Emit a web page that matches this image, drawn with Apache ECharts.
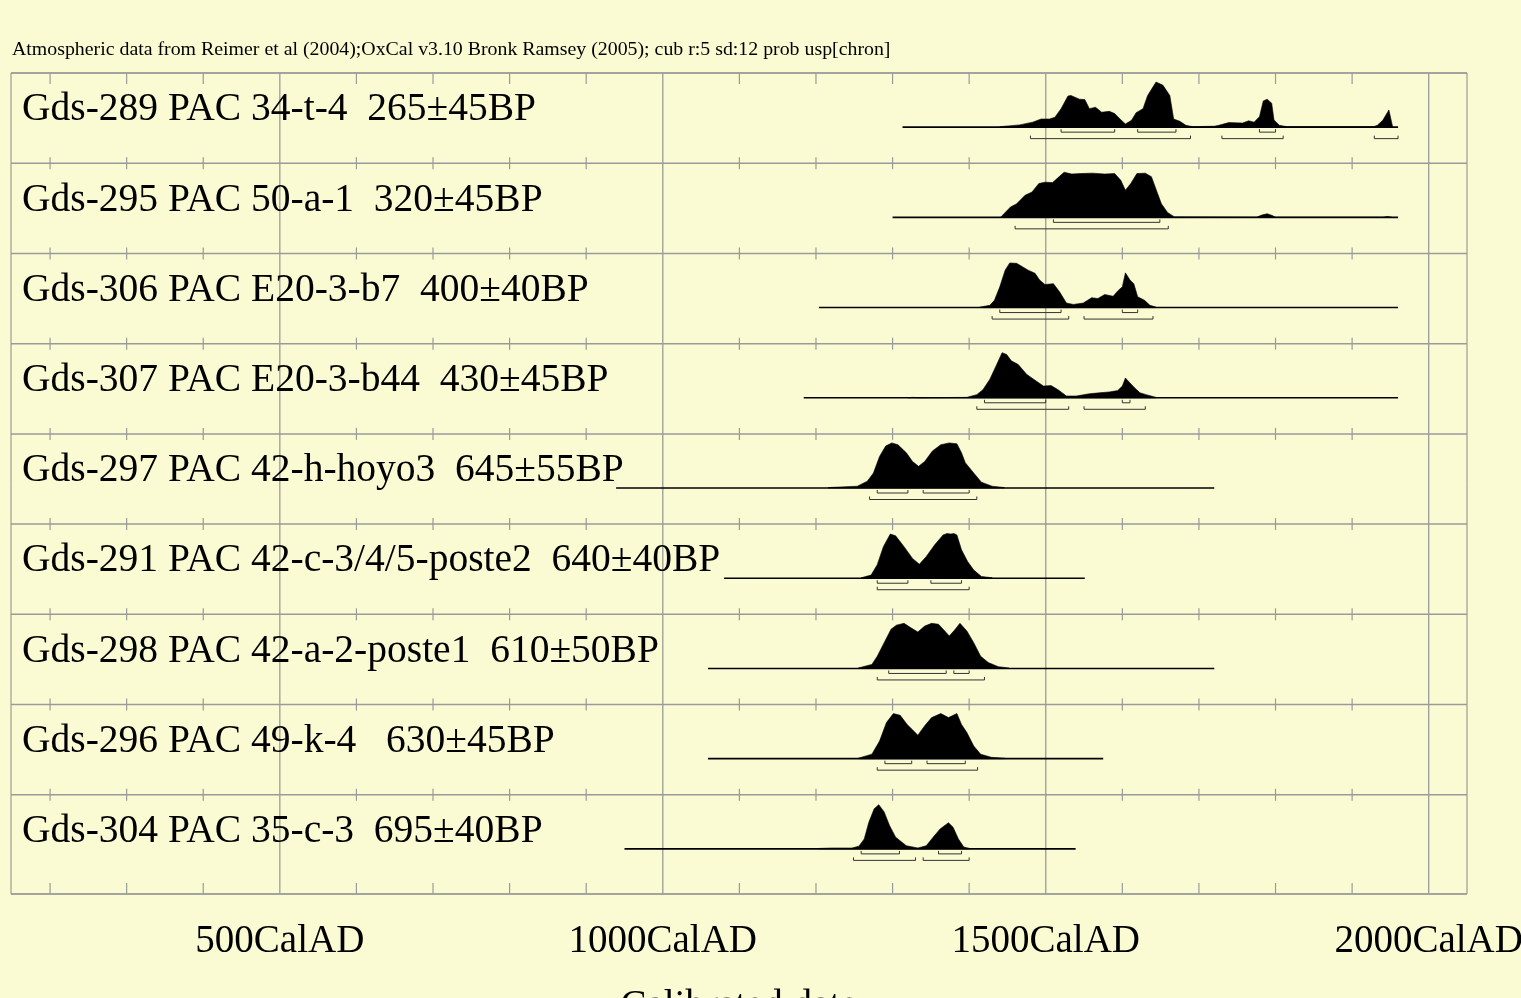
<!DOCTYPE html>
<html>
<head>
<meta charset="utf-8">
<script src="https://cdn.jsdelivr.net/npm/echarts@6/dist/echarts.min.js"></script>
<style>
html,body{margin:0;padding:0;background:#fbfbd3;}
#chart{width:1521px;height:998px;}
</style>
</head>
<body>
<div id="chart"></div>
<script>
// ---- data ----
const titleText = 'Atmospheric data from Reimer et al (2004);OxCal v3.10 Bronk Ramsey (2005); cub r:5 sd:12 prob usp[chron]';
const labels = [
  'Gds-289 PAC 34-t-4  265\u00b145BP',
  'Gds-295 PAC 50-a-1  320\u00b145BP',
  'Gds-306 PAC E20-3-b7  400\u00b140BP',
  'Gds-307 PAC E20-3-b44  430\u00b145BP',
  'Gds-297 PAC 42-h-hoyo3  645\u00b155BP',
  'Gds-291 PAC 42-c-3/4/5-poste2  640\u00b140BP',
  'Gds-298 PAC 42-a-2-poste1  610\u00b150BP',
  'Gds-296 PAC 49-k-4   630\u00b145BP',
  'Gds-304 PAC 35-c-3  695\u00b140BP'
];
const axisTickLabels = [500, 1000, 1500, 2000];
const minorTickYears = [200,300,400,600,700,800,900,1100,1200,1300,1400,1600,1700,1800,1900];
const ranges = [[1313,1960],[1300,1960],[1204,1960],[1184,1960],[939,1720],[1080,1551],[1059,1720],[1059,1575],[950,1539]];

const curve289 = [[1440,0.01],[1466,0.05],[1483,0.11],[1494,0.18],[1505,0.18],[1512,0.22],[1520,0.41],[1529,0.69],[1533,0.70],[1544,0.62],[1551,0.61],[1557,0.41],[1565,0.44],[1573,0.33],[1583,0.35],[1590,0.30],[1597,0.18],[1604,0.07],[1612,0.15],[1618,0.32],[1627,0.41],[1633,0.70],[1644,1.00],[1653,0.93],[1662,0.70],[1667,0.18],[1675,0.13],[1683,0.04],[1692,0.01],[1720,0.02],[1726,0.04],[1739,0.10],[1757,0.09],[1765,0.14],[1772,0.11],[1779,0.23],[1784,0.58],[1789,0.62],[1795,0.53],[1798,0.16],[1805,0.04],[1815,0.01],[1928,0.01],[1933,0.04],[1940,0.15],[1948,0.38],[1953,0.0]];
const curve295 = [[1441,0],[1454,0.23],[1462,0.30],[1473,0.49],[1482,0.56],[1491,0.75],[1499,0.78],[1509,0.77],[1518,0.91],[1524,1.0],[1534,0.96],[1545,0.97],[1561,0.98],[1577,0.96],[1590,0.97],[1598,0.82],[1604,0.60],[1611,0.75],[1619,0.97],[1630,0.98],[1638,0.90],[1646,0.53],[1651,0.30],[1659,0.11],[1668,0.01],[1775,0],[1782,0.05],[1789,0.08],[1796,0.04],[1800,0],[1940,0],[1946,0.02],[1952,0]];
const curve306 = [[1414,0.01],[1427,0.05],[1433,0.16],[1440,0.46],[1447,0.83],[1453,0.99],[1462,0.98],[1468,0.92],[1477,0.83],[1486,0.76],[1492,0.61],[1499,0.51],[1510,0.53],[1518,0.35],[1527,0.10],[1536,0.07],[1549,0.10],[1560,0.22],[1568,0.20],[1577,0.29],[1588,0.25],[1594,0.37],[1600,0.46],[1604,0.77],[1610,0.61],[1615,0.53],[1620,0.24],[1629,0.16],[1636,0.05],[1644,0.01]];
const curve307 = [[1320,0],[1327,0.01],[1335,0],[1397,0.01],[1410,0.07],[1418,0.18],[1427,0.41],[1436,0.74],[1443,1.0],[1449,0.96],[1455,0.82],[1464,0.74],[1475,0.52],[1486,0.39],[1497,0.26],[1507,0.27],[1516,0.18],[1527,0.04],[1540,0.04],[1557,0.09],[1570,0.11],[1583,0.13],[1594,0.16],[1600,0.26],[1604,0.44],[1610,0.33],[1616,0.22],[1623,0.11],[1631,0.07],[1644,0.01]];
const curve297 = [[1216,0.01],[1254,0.04],[1267,0.15],[1275,0.33],[1283,0.70],[1291,0.93],[1299,1.0],[1307,0.96],[1318,0.78],[1326,0.59],[1334,0.48],[1342,0.59],[1352,0.82],[1363,0.96],[1374,1.0],[1384,0.98],[1390,0.78],[1395,0.56],[1406,0.33],[1416,0.13],[1430,0.04],[1446,0.01]];
const curve291 = [[1259,0.01],[1272,0.07],[1280,0.30],[1288,0.70],[1297,0.98],[1304,0.94],[1315,0.70],[1326,0.44],[1335,0.31],[1344,0.48],[1355,0.74],[1366,0.96],[1371,0.99],[1376,0.98],[1380,0.99],[1384,0.96],[1390,0.63],[1398,0.37],[1406,0.18],[1416,0.04],[1430,0.01]];
const curve298 = [[1255,0.01],[1273,0.09],[1280,0.27],[1289,0.57],[1298,0.87],[1305,0.96],[1315,1.0],[1324,0.90],[1333,0.81],[1342,0.94],[1351,1.0],[1360,0.98],[1367,0.85],[1374,0.72],[1381,0.85],[1388,1.0],[1397,0.83],[1406,0.57],[1415,0.27],[1425,0.13],[1438,0.04],[1452,0.01]];
const curve296 = [[1255,0.01],[1273,0.10],[1283,0.39],[1292,0.80],[1301,1.0],[1310,0.96],[1319,0.76],[1326,0.64],[1333,0.52],[1342,0.73],[1351,0.91],[1363,1.0],[1373,0.91],[1384,1.0],[1390,0.76],[1397,0.58],[1406,0.28],[1415,0.10],[1429,0.03],[1447,0.01]];
const curve304 = [[1203,0.01],[1221,0.02],[1247,0.02],[1256,0.06],[1263,0.22],[1269,0.59],[1276,0.89],[1282,0.98],[1289,0.82],[1296,0.52],[1304,0.26],[1318,0.07],[1333,0.02],[1344,0.07],[1353,0.26],[1362,0.44],[1373,0.58],[1379,0.48],[1386,0.22],[1393,0.04],[1401,0.01]];
const curves = [curve289, curve295, curve306, curve307, curve297, curve291, curve298, curve296, curve304];

const sigma1 = [
  [[1520,1590],[1620,1670],[1779,1800]],
  [[1510,1649]],
  [[1440,1520],[1600,1620]],
  [[1420,1500],[1600,1610]],
  [[1280,1320],[1340,1400]],
  [[1280,1320],[1350,1390]],
  [[1295,1370],[1380,1400]],
  [[1290,1325],[1345,1395]],
  [[1259,1309],[1360,1390]]
];
const sigma2 = [
  [[1480,1689],[1730,1810],[1929,1960]],
  [[1460,1660]],
  [[1430,1530],[1550,1640]],
  [[1410,1530],[1550,1630]],
  [[1270,1410]],
  [[1280,1400]],
  [[1280,1420]],
  [[1280,1411]],
  [[1249,1330],[1340,1400]]
];

// ---- layout / style ----
const X_MIN = 149, X_MAX = 2050;
const ROWS = labels.length;
const Y_MAX = ROWS + 0.1;
const BASE_OFF = 0.6, PEAK_H = 0.5, LABEL_OFF = 0.41;
const FONT = '"Liberation Serif","Times New Roman",serif';
const GRID_COLOR = '#9a9a9a';

const boundaries = [];
for (let i = 0; i < ROWS; i++) boundaries.push(i);
boundaries.push(Y_MAX);

function renderBoundary(params, api) {
  const b = api.value(0);
  const cs = params.coordSys;
  const y = api.coord([X_MIN, b])[1];
  const children = [{
    type: 'line', shape: {x1: cs.x, y1: y, x2: cs.x + cs.width, y2: y},
    style: {stroke: GRID_COLOR, lineWidth: 1.5}
  }];
  let up = 6, down = 6;
  if (b === 0) { up = 0; down = 11; }
  if (b === Y_MAX) { up = 11; down = 0; }
  minorTickYears.forEach(yr => {
    const x = api.coord([yr, b])[0];
    children.push({type: 'line', shape: {x1: x, y1: y - up, x2: x, y2: y + down},
      style: {stroke: GRID_COLOR, lineWidth: 1.2}});
  });
  return {type: 'group', children};
}

function renderMajor(params, api) {
  const yr = api.value(0);
  const p0 = api.coord([yr, 0]);
  const p1 = api.coord([yr, Y_MAX]);
  return {type: 'line', shape: {x1: p0[0], y1: p0[1], x2: p1[0], y2: p1[1]},
    style: {stroke: GRID_COLOR, lineWidth: 1.3}};
}

function bracketShapes(api, list, yPix) {
  return list.map(([a, b]) => {
    const xa = api.coord([a, 0])[0], xb = api.coord([b, 0])[0];
    return {type: 'polyline', shape: {points: [[xa, yPix - 3], [xa, yPix], [xb, yPix], [xb, yPix - 3]]},
      style: {stroke: '#333', lineWidth: 1, fill: null}};
  });
}

function renderRow(params, api) {
  const i = api.value(0);
  const cs = params.coordSys;
  const base = i + BASE_OFF;
  const curve = curves[i];
  const pts = [api.coord([curve[0][0], base])];
  curve.forEach(([yr, p]) => pts.push(api.coord([yr, base - p * PEAK_H])));
  pts.push(api.coord([curve[curve.length - 1][0], base]));
  const b0 = api.coord([ranges[i][0], base]);
  const b1 = api.coord([ranges[i][1], base]);
  const children = [
    {type: 'text', style: {text: labels[i], x: cs.x + 11, y: api.coord([X_MIN, i + LABEL_OFF])[1],
      fill: '#000', font: '39.5px ' + FONT, textAlign: 'left', textVerticalAlign: 'middle'}},
    {type: 'polygon', shape: {points: pts}, style: {fill: '#000', stroke: '#000', lineWidth: 0.6}},
    {type: 'line', shape: {x1: b0[0], y1: b0[1], x2: b1[0], y2: b1[1]}, style: {stroke: '#000', lineWidth: 1.6}}
  ];
  const yb = b0[1];
  bracketShapes(api, sigma1[i], yb + 5).forEach(s => children.push(s));
  bracketShapes(api, sigma2[i], yb + 11.5).forEach(s => children.push(s));
  return {type: 'group', children};
}

const chart = echarts.init(document.getElementById('chart'), null, {renderer: 'canvas'});
chart.setOption({
  backgroundColor: '#fbfbd3',
  animation: false,
  title: {
    text: titleText, left: 12, top: 40, padding: 0,
    textStyle: {fontSize: 19.85, fontFamily: FONT, fontWeight: 'normal', color: '#000'}
  },
  grid: {left: 11, top: 73, right: 54, bottom: 104, show: true, borderColor: '#888', borderWidth: 1,
    backgroundColor: 'transparent', containLabel: false, outerBoundsMode: 'none'},
  xAxis: {
    type: 'value', min: X_MIN, max: X_MAX,
    axisLine: {show: false}, axisTick: {show: false}, splitLine: {show: false},
    axisLabel: {
      customValues: axisTickLabels, formatter: v => v + 'CalAD',
      fontSize: 39, fontFamily: FONT, color: '#000', margin: 28
    },
    name: 'Calibrated date', nameLocation: 'middle', nameGap: 93,
    nameTextStyle: {fontSize: 39, fontFamily: FONT, color: '#000'}
  },
  yAxis: {type: 'value', min: 0, max: Y_MAX, inverse: true, show: false},
  series: [
    {type: 'custom', name: 'rows-grid', renderItem: renderBoundary, data: boundaries.map(b => [b]), z: 1, silent: true},
    {type: 'custom', name: 'majors', renderItem: renderMajor, data: axisTickLabels.map(v => [v]), z: 1, silent: true},
    {type: 'custom', name: 'dates', renderItem: renderRow, data: labels.map((_, i) => [i]), z: 2, silent: true}
  ]
});
</script>
</body>
</html>
